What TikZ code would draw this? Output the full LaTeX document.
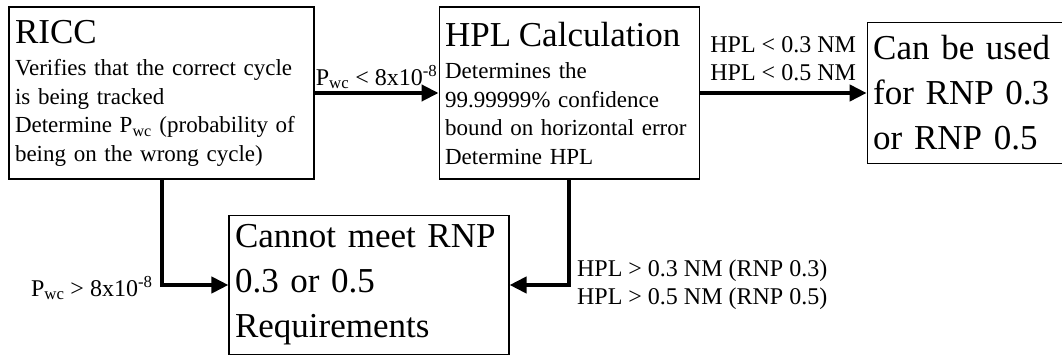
\documentclass[tikz,border=0pt]{standalone}
\usepackage{fontspec}
\setmainfont{Liberation Serif}
\usetikzlibrary{arrows.meta, positioning}

\begin{document}
\begin{tikzpicture}[x=1pt, y=1pt,
    box/.style={rectangle, draw=black, line width=1.1pt, align=left,
        inner xsep=6pt, inner ysep=0pt,
        font=\fontsize{23}{28.5}\selectfont},
    bigbox/.style={box, font=\fontsize{35}{45}\selectfont},
    arr/.style={-{Triangle[length=17pt, width=16pt]}, line width=4pt, black},
    lbl/.style={font=\fontsize{24}{28}\selectfont, align=left, inner sep=2pt},
]
\useasboundingbox[fill=white] (0,0) rectangle (1062,356);

% Check boxes
\node[box, minimum width=305pt, minimum height=172pt, text width=293pt] (ricc) at (161.5,263)
    {{\fontsize{35}{35}\selectfont RICC}\\[4pt]
     Verifies that the correct cycle\\
     is being tracked\\
     Determine P\textsubscript{wc} (probability of\\
     being on the wrong cycle)};
\node[box, minimum width=260pt, minimum height=172pt, text width=248pt, right=124pt of ricc] (hpl)
    {{\fontsize{35}{35}\selectfont HPL Calculation}\\[4pt]
     Determines the\\
     99.99999\% confidence\\
     bound on horizontal error\\
     Determine HPL};

% Outcomes
\node[bigbox, minimum width=195pt, minimum height=141pt, text width=183pt, right=167pt of hpl] (can)
    {Can be used\\for RNP 0.3\\or RNP 0.5};
\node[bigbox, minimum width=280pt, minimum height=139pt, text width=268pt] (cannot) at (369,71)
    {Cannot meet RNP\\0.3 or 0.5\\Requirements};

% Pass arrows
\draw[arr] (ricc) -- node[lbl, above] {P\textsubscript{wc} < 8x10\textsuperscript{-8}} (hpl);
\draw[arr] (hpl) -- node[lbl, above=8pt] {HPL < 0.3 NM\\HPL < 0.5 NM} (can);

% Fail arrows
\draw[arr] (ricc.south) |- node[lbl, pos=0.5, left=5pt, yshift=-3pt] {P\textsubscript{wc} > 8x10\textsuperscript{-8}} (cannot.west);
\draw[arr] (hpl.south) |- node[lbl, pos=0.5, right=4pt] {HPL > 0.3 NM (RNP 0.3)\\HPL > 0.5 NM (RNP 0.5)} (cannot.east);
\end{tikzpicture}
\end{document}
